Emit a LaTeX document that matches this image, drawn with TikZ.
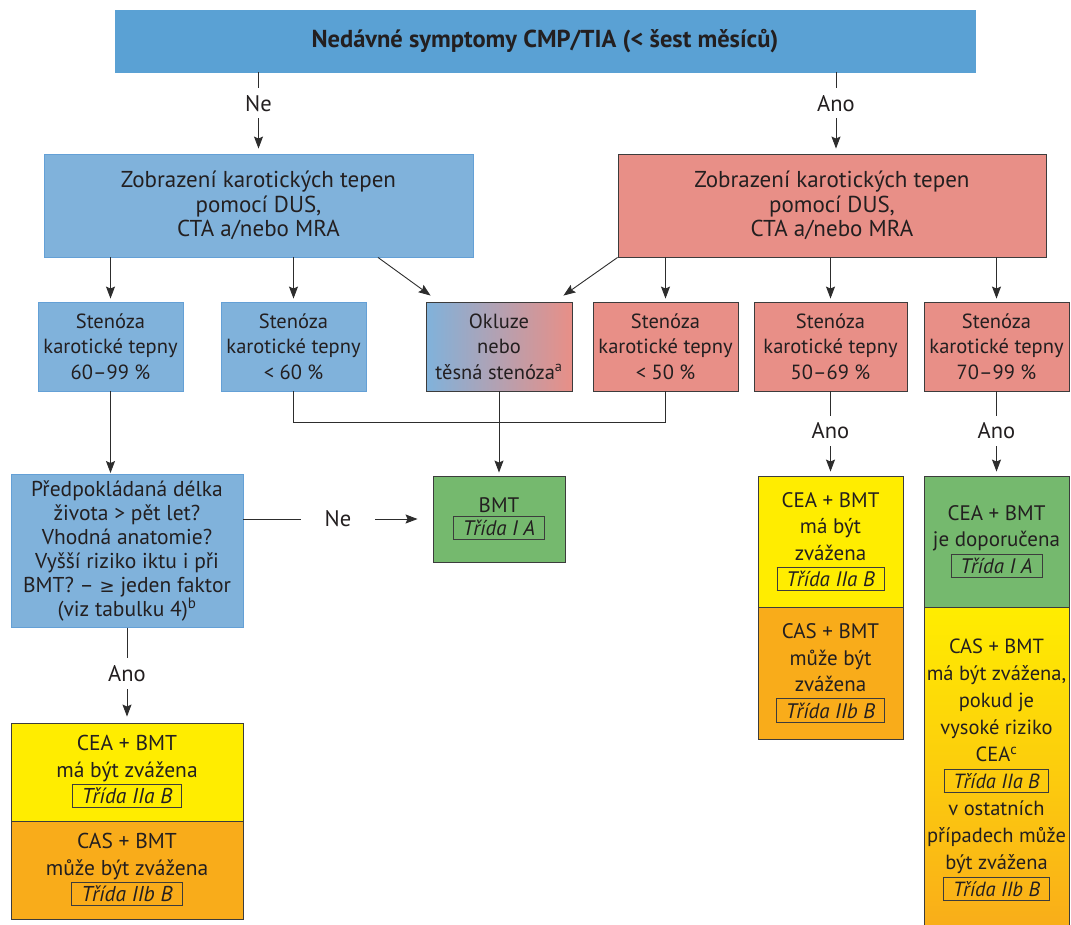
\documentclass[tikz,border=0pt]{standalone}
\usepackage{fontspec}
\setmainfont{PT Sans}
\newfontfamily\symf{DejaVu Sans}
\usetikzlibrary{arrows.meta,calc}
\definecolor{topblue}{RGB}{90,161,212}
\definecolor{lblue}{RGB}{128,178,219}
\definecolor{bluedge}{RGB}{100,160,214}
\definecolor{salmon}{RGB}{232,143,135}
\definecolor{grn}{RGB}{117,185,110}
\definecolor{yel}{RGB}{255,237,0}
\definecolor{org}{RGB}{249,172,26}
\definecolor{edge}{RGB}{60,60,60}
\definecolor{txt}{RGB}{35,31,32}
\definecolor{linec}{RGB}{45,45,45}
\newcommand\cls[1]{{\setlength\fboxsep{3.3pt}\setlength\fboxrule{0.9pt}\color{edge}\fbox{\color{txt}\itshape\ #1\ }}}
\begin{document}
\begin{tikzpicture}[x=1pt,y=-1pt,
  font=\fontsize{21}{25}\selectfont, text=txt,
  bbox/.style={draw=edge, line width=0.9pt, align=center, inner sep=0pt},
  bluebox/.style={bbox, fill=lblue, draw=bluedge},
  redbox/.style={bbox, fill=salmon},
  sten/.style={font=\fontsize{20.5}{25.5}\selectfont},
  arr/.style={draw=linec, line width=0.9pt, -{Stealth[length=12pt,width=9pt,inset=2pt]}},
  plain/.style={draw=linec, line width=0.9pt},
  lbl/.style={fill=white, inner xsep=2pt, inner ysep=7pt, font=\fontsize{22.5}{26}\selectfont}]
\useasboundingbox (0,0) rectangle (1071,924);
% top
\node[bbox, fill=topblue, draw=topblue, minimum width=860, minimum height=62,
  font=\fontsize{24.5}{28}\selectfont\bfseries] (top) at (545,41)
  {\raisebox{-3pt}{Nedávné symptomy CMP/TIA (< šest měsíců)}};
% imaging boxes
\node[bluebox, minimum width=429, minimum height=103, font=\fontsize{23}{24.5}\selectfont] (zL) at (258.5,205.5)
  {Zobrazení karotických tepen\\pomocí DUS,\\CTA a/nebo MRA};
\node[redbox, minimum width=428, minimum height=103, font=\fontsize{23}{24.5}\selectfont] (zR) at (832,205.5)
  {Zobrazení karotických tepen\\pomocí DUS,\\CTA a/nebo MRA};
% row 2
\node[bluebox, sten, minimum width=145, minimum height=89] (b1) at (110.5,346.5)
  {Stenóza\\karotické tepny\\60–99 \%};
\node[bluebox, sten, minimum width=145, minimum height=89] (b2) at (293.5,346.5)
  {Stenóza\\karotické tepny\\< 60 \%};
\node[bbox, sten, left color=lblue, right color=salmon, minimum width=146, minimum height=89] (b3) at (499,346.5)
  {Okluze\\nebo\\těsná stenóza\textsuperscript{a}};
\node[redbox, sten, minimum width=145, minimum height=89] (b4) at (665.5,346.5)
  {Stenóza\\karotické tepny\\< 50 \%};
\node[redbox, sten, minimum width=153, minimum height=89] (b5) at (830.5,346.5)
  {Stenóza\\karotické tepny\\50–69 \%};
\node[redbox, sten, minimum width=145, minimum height=89] (b6) at (996.5,346.5)
  {Stenóza\\karotické tepny\\70–99 \%};
% question box
\node[bluebox, minimum width=232, minimum height=153, font=\fontsize{21.5}{24}\selectfont] (q) at (127,551)
  {Předpokládaná délka\\života > pět let?\\Vhodná anatomie?\\Vyšší riziko iktu i při\\BMT? – {\symf\fontsize{18}{24}\selectfont ≥} jeden faktor\\(viz tabulku 4)\textsuperscript{b}};
% BMT
\node[bbox, fill=grn, minimum width=132, minimum height=86] (bmt) at (499,519)
  {BMT\\[-2pt]\cls{Třída I A}};
% bottom-left results
\node[bbox, fill=yel, minimum width=232, minimum height=98, font=\fontsize{21.5}{26.5}\selectfont] (cea1) at (127,772)
  {CEA + BMT\\má být zvážena\\\cls{Třída IIa B}};
\node[bbox, fill=org, minimum width=232, minimum height=98, font=\fontsize{21.5}{26.5}\selectfont] (cas1) at (127,870)
  {CAS + BMT\\může být zvážena\\\cls{Třída IIb B}};
% 50-69 results
\node[bbox, fill=yel, minimum width=145, minimum height=131, font=\fontsize{21}{26.5}\selectfont] (cea2) at (830.5,541.5)
  {CEA + BMT\\má být\\zvážena\\\cls{Třída IIa B}};
\node[bbox, fill=org, minimum width=145, minimum height=132, font=\fontsize{21}{26.5}\selectfont] (cas2) at (830.5,673)
  {CAS + BMT\\může být\\zvážena\\\cls{Třída IIb B}};
% 70-99 results
\node[bbox, fill=grn, minimum width=145, minimum height=131, font=\fontsize{21}{26.5}\selectfont] (cea3) at (996.5,541.5)
  {CEA + BMT\\je doporučena\\\cls{Třída I A}};
\node[bbox, top color=yel, bottom color=org, minimum width=145, minimum height=326, font=\fontsize{20.5}{27}\selectfont] (cas3) at (996.5,770)
  {CAS + BMT\\má být zvážena,\\pokud je\\vysoké riziko\\CEA\textsuperscript{c}\\\cls{Třída IIa B}\\v ostatních\\případech může\\být zvážena\\\cls{Třída IIb B}};
% connectors
\coordinate (ra) at ([xshift=4pt]zR.north);
\draw[arr, shorten >=5pt] (top.south -| zL.north) -- node[lbl, pos=0.38]{Ne} (zL.north);
\draw[arr, shorten >=5pt] (top.south -| ra) -- node[lbl, pos=0.38]{Ano} (ra);
\draw[arr, shorten >=3pt] (zL.south -| b1.north) -- (b1.north);
\draw[arr, shorten >=3pt] (zL.south -| b2.north) -- (b2.north);
\draw[arr] ([xshift=119.5pt]zL.south) -- ([xshift=5pt,yshift=6pt]b3.north west);
\draw[arr] (zR.south west) -- ([xshift=-9pt,yshift=6pt]b3.north east);
\draw[arr, shorten >=3pt] (zR.south -| b4.north) -- (b4.north);
\draw[arr, shorten >=3pt] (zR.south -| b5.north) -- (b5.north);
\draw[arr, shorten >=3pt] (zR.south -| b6.north) -- (b6.north);
\draw[plain] (b2.south) -- ++(0,31) -| (b4.south);
\draw[arr, shorten >=3pt] (b3.south) -- (bmt.north);
\draw[arr, shorten >=1pt] (b1.south) -- (b1.south |- q.north);
\draw[arr, shorten >=15pt] (q.east |- bmt.west) -- node[lbl, inner xsep=24pt]{Ne} (bmt.west);
\draw[arr, shorten >=6pt] (q.south) -- node[lbl, pos=0.48]{Ano} (cea1.north);
\draw[arr, shorten >=4pt] (b5.south) -- node[lbl, pos=0.47]{Ano} (cea2.north);
\draw[arr, shorten >=4pt] (b6.south) -- node[lbl, pos=0.47]{Ano} (cea3.north);
\end{tikzpicture}
\end{document}
